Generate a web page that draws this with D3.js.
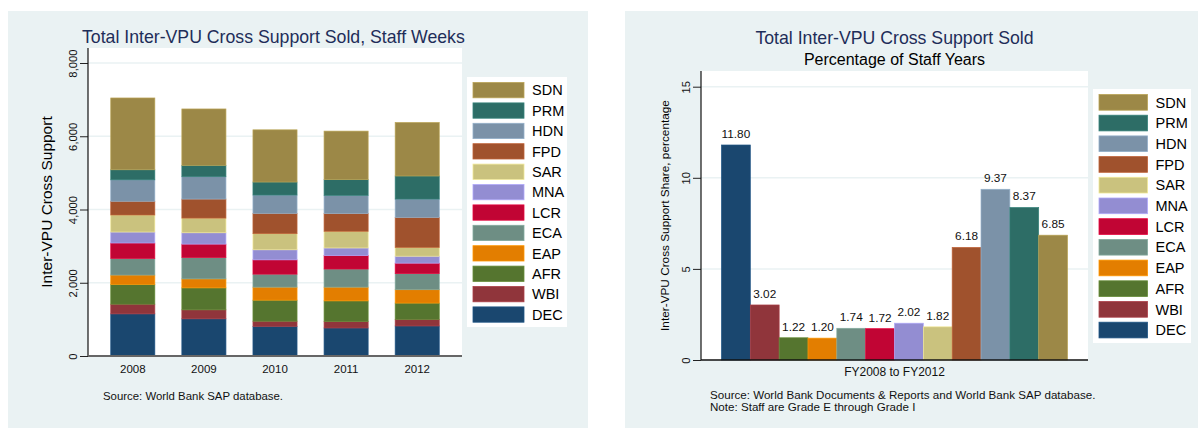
<!DOCTYPE html>
<html>
<head>
<meta charset="utf-8">
<script src="https://cdn.jsdelivr.net/npm/d3@7"></script>
<style>
  body { margin: 0; background: #fff; }
  svg text { font-family: "Liberation Sans", Arial, Helvetica, sans-serif; }
</style>
</head>
<body>
<svg id="chart" width="1198" height="429"></svg>
<script>
// --- Data ---
const years = ['2008', '2009', '2010', '2011', '2012'];
// stack order, bottom to top
const groups = ['DEC', 'WBI', 'AFR', 'EAP', 'ECA', 'LCR', 'MNA', 'SAR', 'FPD', 'HDN', 'PRM', 'SDN'];
const groupColors = ['#1a476f', '#90353b', '#55752f', '#e37e00', '#6e8e84', '#c10534',
                     '#938dd2', '#cac27e', '#a0522d', '#7b92a8', '#2d6d66', '#9c8847'];

// staff weeks by year
const DEC = [1150, 1015, 810, 765, 820];
const WBI = [265, 245, 140, 175, 180];
const AFR = [540, 600, 575, 565, 445];
const EAP = [255, 245, 355, 375, 365];
const ECA = [455, 585, 355, 495, 440];
const LCR = [420, 365, 390, 365, 285];
const MNA = [300, 310, 275, 210, 190];
const SAR = [465, 400, 440, 455, 240];
const FPD = [375, 520, 555, 485, 820];
const HDN = [585, 610, 500, 495, 500];
const PRM = [275, 310, 355, 430, 630];
const SDN = [1960, 1540, 1425, 1325, 1460];
const weekSeries = [DEC, WBI, AFR, EAP, ECA, LCR, MNA, SAR, FPD, HDN, PRM, SDN];

// percentage of staff years, FY2008-FY2012, same order as groups
const shareValues = [11.80, 3.02, 1.22, 1.20, 1.74, 1.72, 2.02, 1.82, 6.18, 9.37, 8.37, 6.85];

const weekTicks = [0, 2000, 4000, 6000, 8000];
const shareTicks = [0, 5, 10, 15];

const BG = '#eaf2f3';
const TITLE_COLOR = '#1e2d59';

const color = d3.scaleOrdinal().domain(groups).range(groupColors);
const svg = d3.select('#chart');

// --- Panels ---
svg.append('rect').attr('x', 8).attr('y', 11).attr('width', 580).attr('height', 417).attr('fill', BG);
svg.append('rect').attr('x', 625).attr('y', 11).attr('width', 573).attr('height', 417).attr('fill', BG);

function yAxisWithGrid(g, y, left, right, ticks, fmt) {
  g.selectAll('.grid').data(ticks.filter(t => t > 0)).join('line')
    .attr('x1', left).attr('x2', right)
    .attr('y1', d => y(d)).attr('y2', d => y(d))
    .attr('stroke', BG).attr('stroke-width', 1.5);

  const ax = g.append('g')
    .attr('transform', `translate(${left},0)`)
    .call(d3.axisLeft(y).tickValues(ticks).tickFormat(fmt).tickSize(8).tickSizeOuter(0));
  ax.select('.domain').remove();
  ax.selectAll('line').attr('stroke', '#222');
  ax.selectAll('text')
    .attr('x', 0).attr('y', -11).attr('dy', 0)
    .attr('transform', 'rotate(-90)')
    .style('text-anchor', 'middle')
    .style('font-size', '11.3px')
    .attr('fill', '#111');
}

function legend(g, x0, y0, boxW, boxH, step, swH, swW) {
  g.append('rect').attr('x', x0).attr('y', y0).attr('width', boxW).attr('height', boxH).attr('fill', '#fff');
  const items = groups.slice().reverse();
  const row = g.selectAll('.leg').data(items).join('g')
    .attr('transform', (d, i) => `translate(${x0 + 6},${y0 + 5.5 + i * step})`);
  row.append('rect')
    .attr('width', swW).attr('height', swH)
    .attr('fill', d => color(d))
    .attr('stroke', d => d3.color(color(d)).brighter(0.5)).attr('stroke-width', 0.8);
  row.append('text')
    .attr('x', swW + 8).attr('y', swH / 2).attr('dy', '0.36em')
    .style('font-size', '14.5px').attr('fill', '#000')
    .text(d => d);
}

// ================= Left: stacked staff weeks =================
{
  const L = { left: 88, right: 462, top: 48, bottom: 356 };
  const g = svg.append('g');

  g.append('text').attr('x', 82).attr('y', 43)
    .style('font-size', '17.7px').attr('fill', TITLE_COLOR)
    .text('Total Inter-VPU Cross Support Sold, Staff Weeks');

  g.append('rect').attr('x', L.left).attr('y', L.top)
    .attr('width', L.right - L.left).attr('height', L.bottom - L.top).attr('fill', '#fff');

  const x = d3.scaleBand().domain(years).range([L.left, L.right]).paddingInner(0.38).paddingOuter(0.32);
  const y = d3.scaleLinear().domain([0, 8000]).range([L.bottom, 63]);

  yAxisWithGrid(g, y, L.left, L.right, weekTicks, d3.format(','));

  const table = years.map((yr, i) => {
    const row = { year: yr };
    groups.forEach((k, j) => { row[k] = weekSeries[j][i]; });
    return row;
  });
  const stacked = d3.stack().keys(groups)(table);

  g.append('g').selectAll('g').data(stacked).join('g')
    .attr('fill', d => color(d.key))
    .attr('stroke', d => d3.color(color(d.key)).brighter(0.5))
    .attr('stroke-width', 0.7)
    .selectAll('rect').data(d => d).join('rect')
    .attr('x', d => x(d.data.year))
    .attr('width', x.bandwidth())
    .attr('y', d => y(d[1]))
    .attr('height', d => y(d[0]) - y(d[1]));

  // axis lines
  g.append('line').attr('x1', L.left).attr('x2', L.left).attr('y1', L.top).attr('y2', L.bottom)
    .attr('stroke', '#111').attr('stroke-width', 1.2);
  g.append('line').attr('x1', L.left).attr('x2', L.right).attr('y1', L.bottom).attr('y2', L.bottom)
    .attr('stroke', '#666').attr('stroke-width', 2);

  g.selectAll('.xlab').data(years).join('text')
    .attr('x', d => x(d) + x.bandwidth() / 2).attr('y', 373)
    .style('text-anchor', 'middle').style('font-size', '11.5px').attr('fill', '#111')
    .text(d => d);

  g.append('text')
    .attr('transform', `translate(52,${(L.top + L.bottom) / 2}) rotate(-90)`)
    .style('text-anchor', 'middle').style('font-size', '15.5px').attr('fill', '#000')
    .text('Inter-VPU Cross Support');

  g.append('text').attr('x', 103).attr('y', 400)
    .style('font-size', '11.4px').attr('fill', '#111')
    .text('Source: World Bank SAP database.');

  legend(g, 467, 77, 100, 250, 20.4, 15.3, 51);
}

// ================= Right: share of staff years =================
{
  const R = { left: 701, right: 1088, top: 71, bottom: 360 };
  const g = svg.append('g');
  const cx = (R.left + R.right) / 2;

  g.append('text').attr('x', cx).attr('y', 44)
    .style('text-anchor', 'middle').style('font-size', '17.7px').attr('fill', TITLE_COLOR)
    .text('Total Inter-VPU Cross Support Sold');
  g.append('text').attr('x', cx).attr('y', 65)
    .style('text-anchor', 'middle').style('font-size', '16px').attr('fill', '#000')
    .text('Percentage of Staff Years');

  g.append('rect').attr('x', R.left).attr('y', R.top)
    .attr('width', R.right - R.left).attr('height', R.bottom - R.top).attr('fill', '#fff');

  const x = d3.scaleBand().domain(groups).range([R.left, R.right]).paddingInner(0).paddingOuter(0.71);
  const y = d3.scaleLinear().domain([0, 15]).range([R.bottom, 86.7]);

  yAxisWithGrid(g, y, R.left, R.right, shareTicks, d3.format('d'));

  const data = groups.map((k, i) => ({ key: k, value: shareValues[i] }));

  g.selectAll('.bar').data(data).join('rect')
    .attr('x', d => x(d.key))
    .attr('width', x.bandwidth())
    .attr('y', d => y(d.value))
    .attr('height', d => y(0) - y(d.value))
    .attr('fill', d => color(d.key))
    .attr('stroke', d => d3.color(color(d.key)).brighter(0.5))
    .attr('stroke-width', 0.7);

  g.selectAll('.val').data(data).join('text')
    .attr('x', d => x(d.key) + x.bandwidth() / 2)
    .attr('y', d => y(d.value) - 7)
    .style('text-anchor', 'middle').style('font-size', '11.8px').attr('fill', '#111')
    .text(d => d.value.toFixed(2));

  g.append('line').attr('x1', R.left).attr('x2', R.left).attr('y1', R.top).attr('y2', R.bottom)
    .attr('stroke', '#111').attr('stroke-width', 1.2);
  g.append('line').attr('x1', R.left).attr('x2', R.right).attr('y1', R.bottom).attr('y2', R.bottom)
    .attr('stroke', '#111').attr('stroke-width', 1.5);

  g.append('text').attr('x', cx).attr('y', 376)
    .style('text-anchor', 'middle').style('font-size', '12px').attr('fill', '#111')
    .text('FY2008 to FY2012');

  g.append('text')
    .attr('transform', `translate(669,${(R.top + R.bottom) / 2}) rotate(-90)`)
    .style('text-anchor', 'middle').style('font-size', '11.8px').attr('fill', '#000')
    .text('Inter-VPU Cross Support Share, percentage');

  g.append('text').attr('x', 710).attr('y', 399)
    .style('font-size', '11.6px').attr('fill', '#111')
    .text('Source: World Bank Documents & Reports and World Bank SAP database.');
  g.append('text').attr('x', 710).attr('y', 411)
    .style('font-size', '11.6px').attr('fill', '#111')
    .text('Note: Staff are Grade E through Grade I');

  legend(g, 1093, 89, 98, 254, 20.7, 15.7, 48.5);
}
</script>
</body>
</html>
